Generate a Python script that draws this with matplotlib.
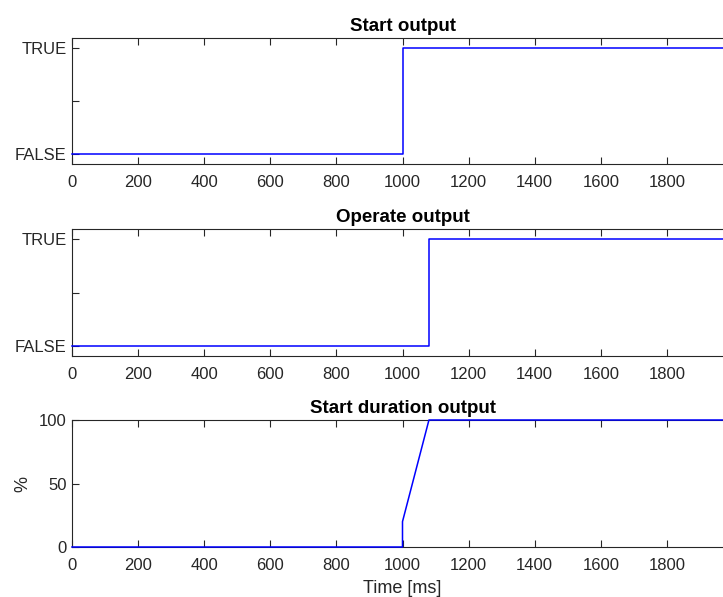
import numpy as np
import matplotlib.pyplot as plt

plt.rcParams['font.family'] = ['Liberation Sans', 'DejaVu Sans']

# step signals (time in ms)
start_t = [0, 1000, 1000, 2000]
start_v = [0, 0, 1, 1]

operate_t = [0, 1080, 1080, 2000]
operate_v = [0, 0, 1, 1]

dur_t = [0, 1000, 1000, 1080, 2000]
dur_v = [0, 0, 20, 100, 100]

titles = ["Start output", "Operate output", "Start duration output"]
xticks = [0, 200, 400, 600, 800, 1000, 1200, 1400, 1600, 1800]

W, H = 723, 597
fig = plt.figure(figsize=(W / 100, H / 100), dpi=100)

gray = (0.15, 0.15, 0.15)
left, right = 72, 733
boxes = [(38, 164), (229, 356), (420, 547)]

axes = []
for top, bot in boxes:
    ax = fig.add_axes([left / W, 1 - bot / H, (right - left) / W, (bot - top) / H])
    axes.append(ax)

series = [(start_t, start_v), (operate_t, operate_v), (dur_t, dur_v)]
for ax, (t, v), title in zip(axes, series, titles):
    ax.plot(t, v, color=(0, 0, 1), lw=1.1, clip_on=False, zorder=5)
    ax.set_xlim(0, 2000)
    ax.set_xticks(xticks)
    ax.set_xticklabels([str(x) for x in xticks])
    ax.set_title(title, fontsize=13.5, fontweight='bold', color='black', pad=5)
    ax.tick_params(direction='in', length=5, width=0.8, top=True, right=True,
                   labelsize=12, colors=gray, pad=4)
    ax.tick_params(axis='x', pad=8)
    for s in ax.spines.values():
        s.set_color(gray)
        s.set_linewidth(0.8)

for ax in axes[:2]:
    ax.set_ylim(-0.09, 1.09)
    ax.set_yticks([0, 0.5, 1])
    ax.set_yticklabels(["FALSE", "", "TRUE"])

axes[2].set_ylim(0, 100)
axes[2].set_yticks([0, 50, 100])
axes[2].set_ylabel("%", fontsize=13, color=gray, labelpad=5)
axes[2].set_xlabel("Time [ms]", fontsize=13, color=gray, labelpad=5)

fig.savefig("out.png", dpi=100)
